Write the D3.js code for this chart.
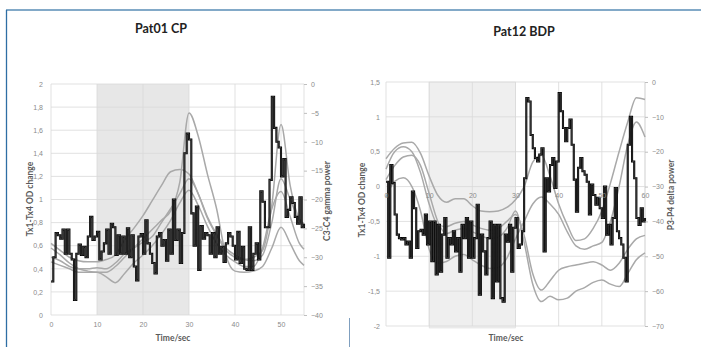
<!DOCTYPE html>
<html lang="en">
<head>
<meta charset="UTF-8">
<title>Pat01 CP / Pat12 BDP</title>
<script src="https://cdnjs.cloudflare.com/ajax/libs/d3/7.8.5/d3.min.js"></script>
<style>
    body { margin: 0; background: #fff; }
    svg { display: block; font-family: Lato, "Open Sans", sans-serif; }
    .axis text { fill: #8a8a8a; font-size: 7px; }
    .axis line { stroke: #bfbfbf; }
    .axis .domain { display: none; }
    .title { font-size: 12.5px; font-weight: bold; fill: #222; }
    .atitle { font-size: 8.5px; font-weight: bold; fill: #5a5a5a; }
</style>
</head>
<body>
<script>
    const width = 701;
    const height = 347;

    // ---- Pat01 CP ----
    const p1BlackTimes = d3.range(0, 55.01, 0.5);
    const p1Black = [0.29,0.50,0.71,0.69,0.66,0.74,0.53,0.74,0.53,0.48,
        0.13,0.53,0.61,0.52,0.59,0.50,0.68,0.85,0.65,0.68,
        0.72,0.48,0.55,0.62,0.74,0.53,0.79,0.76,0.52,0.69,
        0.53,0.68,0.53,0.75,0.50,0.69,0.42,0.30,0.68,0.70,
        0.53,0.82,0.62,0.53,0.45,0.36,0.68,0.71,0.60,0.65,
        0.47,0.74,0.53,1.00,0.65,0.74,0.45,0.71,1.40,1.57,
        1.52,0.88,0.60,0.94,0.39,0.77,0.66,0.71,0.69,0.53,
        0.71,0.50,0.76,0.53,0.59,0.46,0.62,0.71,0.68,0.60,
        0.48,0.72,0.45,0.59,0.40,0.39,0.76,0.39,0.53,0.62,
        0.48,1.07,0.98,0.76,0.76,1.17,1.89,1.62,1.50,1.45,
        1.20,1.35,0.85,0.91,1.02,0.97,0.85,0.79,1.02,0.76,
        0.79];
    const p1CurveTimes = [0,2,4,6,8,10,12,14,16,18,20,22,24,26,28,30,32,34,36,38,40,42,44,46,48,50,52,54,55];
    const p1Gamma1 = [-28.4,-29.6,-31,-32,-32.4,-32.6,-32.6,-31.6,-30,-28.4,-26.8,-25.2,-23.6,-22,-17,-5,-9,-15.6,-21.6,-29.6,-32.4,-32.6,-32.4,-31.6,-28.4,-24.8,-27.6,-30.6,-31.4];
    const p1Gamma2 = [-27.6,-28.8,-30,-30.6,-30.8,-30.8,-30.4,-29.6,-27,-25,-22.8,-20.2,-17.6,-15.2,-14.8,-15.6,-19,-23.2,-26.2,-28.8,-30,-30.4,-30,-28.8,-21,-7,-17.6,-23.4,-24.2];
    const p1Gamma3 = [-30,-30.6,-31.6,-32,-32,-31.8,-32,-31,-29.4,-28.4,-27.4,-26.4,-24,-21.6,-19,-16.4,-19,-23,-26,-28.4,-29.6,-30.4,-30.6,-29.6,-24,-16.4,-20,-23.6,-24.4];
    const p1Gamma4 = [-30.8,-31.4,-32,-32.6,-32.6,-32.6,-33.4,-34.4,-32.8,-31,-29.6,-28,-26,-23.6,-20.6,-18.4,-21,-24.6,-27.6,-29.6,-30.8,-31.6,-31.6,-28.4,-21.6,-18.6,-23,-27.6,-28.6];
    const p1XTicks = [0,10,20,30,40,50];
    const p1LeftTicks = [0,0.2,0.4,0.6,0.8,1,1.2,1.4,1.6,1.8,2];
    const p1RightTicks = [0,-5,-10,-15,-20,-25,-30,-35,-40];

    // ---- Pat12 BDP ----
    const p2BlackTimes = d3.range(0, 60.01, 0.5);
    const p2Black = [0.07,-1.02,0.31,0.05,-0.40,-0.69,-0.74,-0.76,-0.74,-0.83,
        -0.79,-1.02,-0.07,-0.31,-0.88,-0.64,-0.62,-0.69,-0.40,-0.83,
        -0.50,-1.07,-0.50,-1.26,-0.55,-1.22,-0.69,-0.45,-1.02,-0.74,
        -0.83,-0.64,-0.93,-0.74,-1.22,-0.55,-0.74,-0.45,-1.02,-0.50,
        -1.02,-0.74,-0.26,-1.55,-0.69,-0.93,-1.26,-0.74,-0.50,-1.60,
        -0.55,-1.36,-0.55,-1.60,-1.65,-0.69,-0.79,-0.55,-1.22,-0.59,
        -0.45,-0.88,-0.83,-0.64,0.12,1.27,1.22,0.74,0.55,0.41,
        0.36,0.46,0.55,-0.93,0.12,-0.07,0.31,0.41,-0.02,0.36,
        1.34,1.08,0.84,0.65,0.84,0.96,0.60,0.10,-0.36,0.27,
        0.41,0.22,0.17,0.07,-0.40,0.03,-0.12,-0.26,-0.16,-0.31,
        -0.45,0.00,-0.69,-0.55,-0.83,-0.45,-0.02,-0.64,-0.74,-0.83,
        -1.02,-1.36,0.60,1.00,0.36,0.12,-0.45,-0.55,-0.31,-0.50,
        -0.45];
    const p2CurveTimes = [0,2,4,6,8,10,12,14,16,18,20,22,24,26,28,30,32,34,36,38,40,42,44,46,48,50,52,54,56,58,60];
    const p2Delta1 = [-22,-19,-17.5,-17.3,-20.5,-27,-32.5,-34.5,-33.5,-33.5,-35.5,-37,-37.2,-37,-36,-33.8,-30,-23,-21,-27,-35,-41,-45.5,-45,-42,-37,-29,-20,-11.5,-4.5,-5];
    const p2Delta2 = [-25,-20,-18.6,-20,-26,-35,-41,-41.5,-40.5,-40,-41,-42,-42.5,-42,-40,-38,-44,-55,-59.7,-57,-54,-53,-52.5,-52,-51.6,-52.5,-54,-52,-48,-45,-44];
    const p2Delta3 = [-28,-24,-21.5,-21,-24,-32,-40,-43.5,-42.5,-42,-43,-44,-45,-44.5,-42,-37,-46,-58,-63,-61.5,-62.5,-62,-60,-59,-57.5,-56.8,-58,-58.7,-55,-51,-49];
    const p2Delta4 = [-33,-28.5,-27.5,-30,-37,-48,-52,-51.5,-50,-49.5,-51,-52.5,-53.5,-53.2,-50.5,-45,-40,-35,-33,-35,-38,-43,-47,-48,-47,-46,-40,-30,-18,-11.5,-15.8];
    const p2XTicks = [0,10,20,30,40,50,60];
    const p2LeftTicks = [1.5,1,0.5,0,-0.5,-1,-1.5,-2];
    const p2RightTicks = [0,-10,-20,-30,-40,-50,-60,-70];

    const shade = [10, 30];
    const comma = d => String(+d.toFixed(1)).replace('.', ',');

    const svg = d3.select('body')
        .append('svg')
        .attr('width', width)
        .attr('height', height);

    // frame lines of the page
    svg.append('line').attr('x1', 6).attr('y1', 10).attr('x2', width).attr('y2', 10)
        .attr('stroke', '#82a9c8').attr('stroke-width', 2);
    svg.append('line').attr('x1', 6.5).attr('y1', 10).attr('x2', 6.5).attr('y2', height)
        .attr('stroke', '#2e6ea4').attr('stroke-width', 1.3);
    svg.append('line').attr('x1', 349.5).attr('y1', 318).attr('x2', 349.5).attr('y2', height)
        .attr('stroke', '#7f9fbf').attr('stroke-width', 1);

    function drawPanel(p) {
        const g = svg.append('g');
        const [x0, x1] = p.x.range();
        const [yb, yt] = p.yL.range();

        // shaded stimulation interval
        g.append('rect')
            .attr('x', p.x(shade[0]))
            .attr('y', yt)
            .attr('width', p.x(shade[1]) - p.x(shade[0]))
            .attr('height', yb - yt + p.shadeExtra)
            .attr('fill', p.shadeFill)
            .attr('stroke', p.shadeStroke)
            .attr('stroke-width', 0.6);

        // grid
        g.selectAll('.hg').data(p.leftTicks).enter().append('line')
            .attr('x1', x0).attr('x2', x1)
            .attr('y1', d => p.yL(d)).attr('y2', d => p.yL(d))
            .attr('stroke', '#d9d9d9').attr('stroke-width', 0.8);
        g.selectAll('.vg').data(p.xTicks.concat([p.x.domain()[1]])).enter().append('line')
            .attr('x1', d => p.x(d)).attr('x2', d => p.x(d))
            .attr('y1', yt).attr('y2', yb)
            .attr('stroke', '#d9d9d9').attr('stroke-width', 0.8);

        // smooth power curves (right axis)
        const curveLine = d3.line()
            .x((d, i) => p.x(p.curveTimes[i]))
            .y(d => p.yR(d))
            .curve(d3.curveMonotoneX);
        p.curves.forEach(c => {
            g.append('path').attr('d', curveLine(c))
                .attr('fill', 'none').attr('stroke', '#a9a9a9').attr('stroke-width', 1.5);
        });

        // stepped OD change (left axis)
        const stepLine = d3.line()
            .x((d, i) => p.x(p.blackTimes[i]))
            .y(d => p.yL(d))
            .curve(d3.curveStepAfter);
        g.append('path').attr('d', stepLine(p.black))
            .attr('fill', 'none').attr('stroke', '#000').attr('stroke-width', 2.1);
        g.append('path').attr('d', stepLine(p.black))
            .attr('fill', 'none').attr('stroke', '#7a7a7a').attr('stroke-width', 0.45);

        // axes
        g.append('g').attr('class', 'axis')
            .attr('transform', 'translate(' + x0 + ',0)')
            .call(d3.axisLeft(p.yL).tickValues(p.leftTicks).tickSize(0).tickPadding(p.leftPad).tickFormat(comma));
        g.append('g').attr('class', 'axis')
            .attr('transform', 'translate(' + x1 + ',0)')
            .call(d3.axisRight(p.yR).tickValues(p.rightTicks).tickSize(3).tickPadding(4).tickFormat(d3.format('d')));
        g.append('g').attr('class', 'axis')
            .attr('transform', 'translate(0,' + p.xAxisY + ')')
            .call(d3.axisBottom(p.x).tickValues(p.xTicks).tickSize(0).tickPadding(p.xPad).tickFormat(d3.format('d')));

        // titles
        g.append('text').attr('class', 'title')
            .attr('x', p.titleX).attr('y', p.titleY)
            .attr('text-anchor', 'middle').text(p.title);
        g.append('text').attr('class', 'atitle')
            .attr('x', p.xTitleX).attr('y', 341)
            .attr('text-anchor', 'middle').text('Time/sec');
        g.append('text').attr('class', 'atitle')
            .attr('transform', 'translate(' + p.lTitleX + ',' + p.lTitleY + ') rotate(-90)')
            .attr('text-anchor', 'middle').text('Tx1-Tx4 OD change');
        g.append('text').attr('class', 'atitle')
            .attr('transform', 'translate(' + p.rTitleX + ',' + p.rTitleY + ') rotate(-90)')
            .attr('text-anchor', 'middle').text(p.rightTitle);
    }

    const x1 = d3.scaleLinear().domain([0, 55]).range([51, 304]);
    const yL1 = d3.scaleLinear().domain([0, 2]).range([315, 84]);
    drawPanel({
        x: x1, yL: yL1,
        yR: d3.scaleLinear().domain([-40, 0]).range([315, 84]),
        blackTimes: p1BlackTimes, black: p1Black,
        curveTimes: p1CurveTimes, curves: [p1Gamma4, p1Gamma3, p1Gamma2, p1Gamma1],
        xTicks: p1XTicks, leftTicks: p1LeftTicks, rightTicks: p1RightTicks,
        xAxisY: 315, xPad: 7, leftPad: 8, shadeExtra: 0,
        shadeFill: '#e7e7e7', shadeStroke: 'none',
        title: 'Pat01 CP', titleX: 161, titleY: 33,
        xTitleX: 173, lTitleX: 33, lTitleY: 199,
        rightTitle: 'C3-C4 gamma power', rTitleX: 330, rTitleY: 201
    });

    const x2 = d3.scaleLinear().domain([0, 60]).range([386, 645]);
    const yL2 = d3.scaleLinear().domain([-2, 1.5]).range([326, 82]);
    drawPanel({
        x: x2, yL: yL2,
        yR: d3.scaleLinear().domain([-70, 0]).range([326, 82]),
        blackTimes: p2BlackTimes, black: p2Black,
        curveTimes: p2CurveTimes, curves: [p2Delta4, p2Delta3, p2Delta2, p2Delta1],
        xTicks: p2XTicks, leftTicks: p2LeftTicks, rightTicks: p2RightTicks,
        xAxisY: yL2(0), xPad: 6, leftPad: 6, shadeExtra: 2,
        shadeFill: '#efefef', shadeStroke: '#dcdcdc',
        title: 'Pat12 BDP', titleX: 524, titleY: 36,
        xTitleX: 506, lTitleX: 365, lTitleY: 200,
        rightTitle: 'P3-P4 delta power', rTitleX: 674, rTitleY: 195
    });
</script>
</body>
</html>
